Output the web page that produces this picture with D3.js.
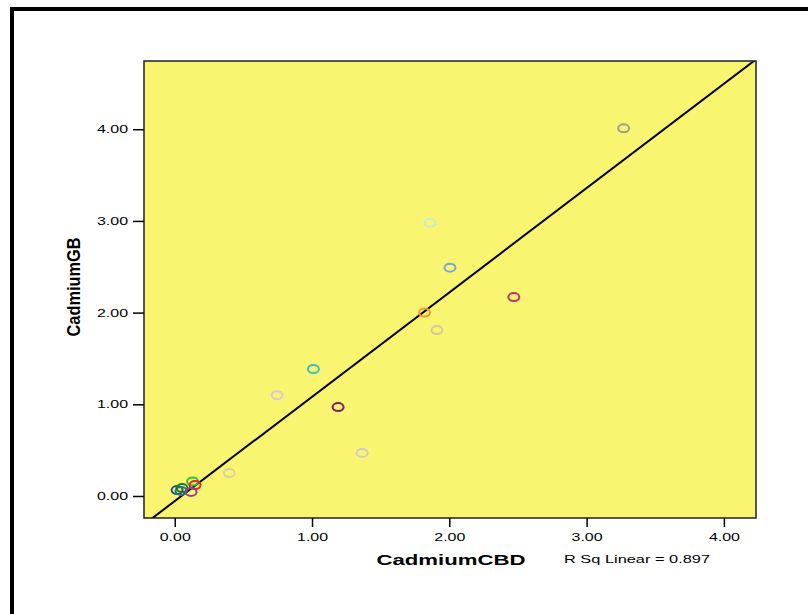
<!DOCTYPE html>
<html>
<head>
<meta charset="utf-8">
<script src="https://cdn.jsdelivr.net/npm/d3@7"></script>
<style>
	body { margin: 0; background: #fff; }
	svg { display: block; font-family: "Liberation Sans", Arial, sans-serif; }
</style>
</head>
<body>
<svg id="chart" width="808" height="614"></svg>
<script>
// values
const cadmiumCBD = [3.27, 1.86, 2.005, 2.47, 1.82, 1.91, 1.01, 0.746, 1.19, 1.365, 0.397,
	0.017, 0.046, 0.053, 0.13, 0.148, 0.119]
const cadmiumGB = [4.01, 2.98, 2.49, 2.17, 2.00, 1.81, 1.385, 1.10, 0.97, 0.47, 0.25,
	0.065, 0.055, 0.087, 0.158, 0.12, 0.044]
const pointColors = ['#a09c98', '#c4eed0', '#78a6d6', '#c0306c', '#f49a2c', '#d2c8a0',
	'#3cc0c0', '#e2c2dc', '#7a1e68', '#cccccc', '#d8cfa8',
	'#2a4c9c', '#1e7c7c', '#1e7a2a', '#2ec23a', '#ee2424', '#8a3ca8']
const xTicks = [0, 1, 2, 3, 4]
const yTicks = [0, 1, 2, 3, 4]
const rSquaredLabel = 'R Sq Linear = 0.897'

const plot = { left: 144, top: 61, right: 756, bottom: 518 }

const svg = d3.select('#chart')

// outer frame (only left/top edges show in the window)
svg.append('rect')
	.attr('x', 12).attr('y', 9)
	.attr('width', 1000).attr('height', 1000)
	.attr('fill', 'none')
	.attr('stroke', '#000')
	.attr('stroke-width', 4)

const x = d3.scaleLinear().domain([-0.224, 4.234]).range([plot.left, plot.right])
const y = d3.scaleLinear().domain([-0.24, 4.744]).range([plot.bottom, plot.top])

svg.append('defs').append('clipPath').attr('id', 'plot-clip')
	.append('rect')
		.attr('x', plot.left).attr('y', plot.top)
		.attr('width', plot.right - plot.left)
		.attr('height', plot.bottom - plot.top)

svg.append('rect')
	.attr('x', plot.left).attr('y', plot.top)
	.attr('width', plot.right - plot.left)
	.attr('height', plot.bottom - plot.top)
	.attr('fill', '#faf571')

// least squares fit
const mx = d3.mean(cadmiumCBD)
const my = d3.mean(cadmiumGB)
const sxy = d3.sum(cadmiumCBD, (v, i) => (v - mx) * (cadmiumGB[i] - my))
const sxx = d3.sum(cadmiumCBD, (v) => (v - mx) * (v - mx))
const slope = sxy / sxx
const intercept = my - slope * mx
const [x0, x1] = x.domain()

svg.append('line')
	.attr('clip-path', 'url(#plot-clip)')
	.attr('x1', x(x0)).attr('y1', y(intercept + slope * x0))
	.attr('x2', x(x1)).attr('y2', y(intercept + slope * x1))
	.attr('stroke', '#000')
	.attr('stroke-width', 2)

svg.append('g')
	.selectAll('ellipse')
	.data(cadmiumCBD)
	.join('ellipse')
		.attr('cx', (d) => x(d))
		.attr('cy', (d, i) => y(cadmiumGB[i]))
		.attr('rx', 5.5)
		.attr('ry', 4)
		.attr('fill', 'none')
		.attr('stroke', (d, i) => pointColors[i])
		.attr('stroke-width', 2)

svg.append('rect')
	.attr('x', plot.left).attr('y', plot.top)
	.attr('width', plot.right - plot.left)
	.attr('height', plot.bottom - plot.top)
	.attr('fill', 'none')
	.attr('stroke', '#222')
	.attr('stroke-width', 1.5)

const fmt = d3.format('.2f')

const xAxis = svg.append('g')
	.attr('transform', `translate(0,${plot.bottom})`)
	.call(d3.axisBottom(x).tickValues(xTicks).tickFormat(fmt).tickSize(9).tickPadding(6))
xAxis.select('.domain').remove()

const yAxis = svg.append('g')
	.attr('transform', `translate(${plot.left},0)`)
	.call(d3.axisLeft(y).tickValues(yTicks).tickFormat(fmt).tickSize(11).tickPadding(5))
yAxis.select('.domain').remove()

svg.selectAll('.tick line').attr('stroke', '#000').attr('stroke-width', 1.5)
svg.selectAll('.tick text')
	.attr('fill', '#000')
	.style('font-size', '11.5px')
	.style('font-family', '"Liberation Sans", Arial, sans-serif')
	.attr('textLength', 31)
	.attr('lengthAdjust', 'spacingAndGlyphs')

svg.append('text')
	.attr('x', 451).attr('y', 565)
	.attr('text-anchor', 'middle')
	.attr('font-size', 15)
	.attr('font-weight', 'bold')
	.attr('textLength', 149)
	.attr('lengthAdjust', 'spacingAndGlyphs')
	.text('CadmiumCBD')

svg.append('text')
	.attr('transform', 'translate(80,287) rotate(-90) scale(1,1.4)')
	.attr('text-anchor', 'middle')
	.attr('font-size', 13)
	.attr('font-weight', 'bold')
	.attr('textLength', 99)
	.attr('lengthAdjust', 'spacingAndGlyphs')
	.text('CadmiumGB')

svg.append('text')
	.attr('x', 564).attr('y', 563)
	.attr('font-size', 11.5)
	.attr('textLength', 146)
	.attr('lengthAdjust', 'spacingAndGlyphs')
	.text(rSquaredLabel)
</script>
</body>
</html>
